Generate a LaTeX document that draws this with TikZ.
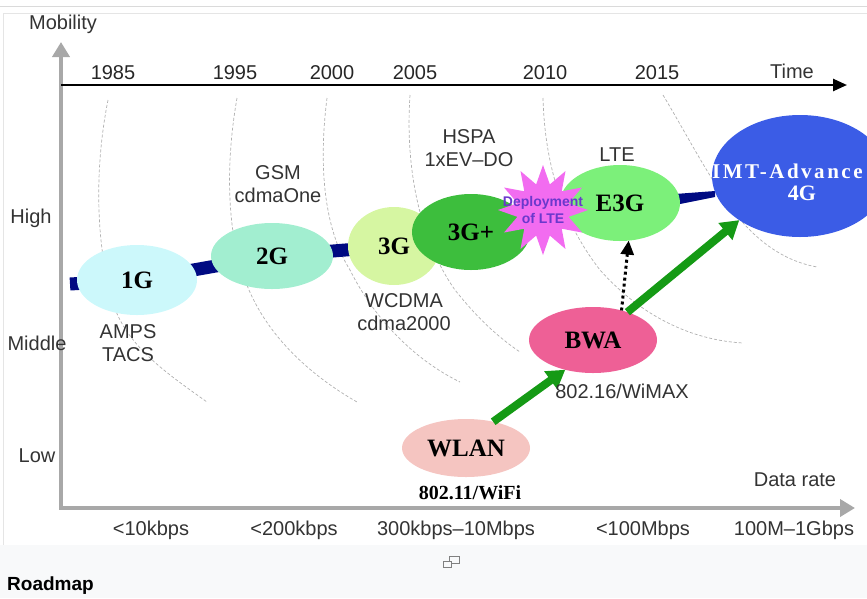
\documentclass[tikz,border=0pt]{standalone}
\usepackage{fontspec}
\setmainfont{Liberation Serif}
\setsansfont{Liberation Sans}
\usetikzlibrary{shapes.geometric,arrows.meta}

\definecolor{axisgray}{HTML}{A8A8A8}
\definecolor{arcgray}{HTML}{B0B0B0}
\definecolor{bandblue}{HTML}{000A82}
\definecolor{oneG}{HTML}{CCF8FB}
\definecolor{twoG}{HTML}{A2EED0}
\definecolor{threeG}{HTML}{D6F6A2}
\definecolor{threeGp}{HTML}{3DBE3D}
\definecolor{eThreeG}{HTML}{7CF07A}
\definecolor{imtblue}{HTML}{3B5CE6}
\definecolor{bwapink}{HTML}{EE6096}
\definecolor{wlanpink}{HTML}{F5C5C1}
\definecolor{starpink}{HTML}{F26CF0}
\definecolor{starText}{HTML}{6A38CC}
\definecolor{arrowgreen}{HTML}{159A15}
\definecolor{txtgray}{HTML}{333333}
\definecolor{capbg}{HTML}{F8F9FA}
\definecolor{framegray}{HTML}{DADADA}

\begin{document}
\begin{tikzpicture}[x=1pt,y=-1pt,
  gen/.style={ellipse, inner sep=0, outer sep=0, font=\bfseries\fontsize{25}{25}\selectfont},
  lbl/.style={font=\sffamily\fontsize{20}{23}\selectfont, text=txtgray, inner sep=0, align=center},
  era/.style={arcgray, dash pattern=on 3pt off 2pt, line width=0.7pt},
  leap/.style={arrowgreen, line width=8pt, -{Triangle[length=18pt,width=21pt]}}]
\useasboundingbox (0,0) rectangle (867,598);

% frame and caption strip
\draw[framegray, line width=1pt] (0,6) -- (867,6);
\draw[framegray!70, line width=1pt] (3,545) -- (3,13) -- (867,13);
\fill[capbg] (0,545) rectangle (867,598);

% centres of the generations
\coordinate (c1G) at (137,280);
\coordinate (c2G) at (272,256);
\coordinate (c3G) at (394,246);
\coordinate (c3Gp) at (471,232);
\coordinate (cE3G) at (620,203);
\coordinate (cIMT) at (800,176);
\coordinate (cBWA) at (593,340);
\coordinate (cWLAN) at (466,448);
\coordinate (cStar) at (543,210);

% dashed era arcs
\draw[era] (108,100) .. controls (96,160) and (94,235) .. (112,300) .. controls (125,345) and (165,372) .. (207,402);
\draw[era] (237,98) .. controls (226,160) and (226,230) .. (245,280) .. controls (265,335) and (310,375) .. (357,402);
\draw[era] (327,98) .. controls (318,170) and (325,230) .. (350,270) .. controls (375,320) and (415,360) .. (460,382);
\draw[era] (410,95) .. controls (405,170) and (420,240) .. (455,290) .. controls (475,315) and (495,335) .. (520,352);
\draw[era] (543,98) .. controls (545,170) and (565,225) .. (600,270) .. controls (640,315) and (690,340) .. (743,343);
\draw[era] (663,95) .. controls (690,140) and (715,190) .. (745,225) .. controls (770,252) and (795,263) .. (817,267);

% axes
\coordinate (origin) at (61,508);
\draw[axisgray, line width=4pt, {Triangle[length=15pt,width=17pt]}-{Triangle[length=15pt,width=17pt]}]
  (61,42) -- (origin) -- (855,508);
\draw[black, line width=2.5pt, -{Triangle[length=14pt,width=12pt]}] (61,85) -- (847,85);

% evolution band
\draw[bandblue, line width=13pt] (70,284) -- (c1G) -- (c2G) -- (c3G) -- (c3Gp) -- (cE3G);
\fill[bandblue] (675,194) -- (715,191) -- (715,197) -- (675,205) -- cycle;

% generations
\node[gen, fill=oneG, minimum width=120pt, minimum height=70pt] (n1G) at (c1G) {1G};
\node[gen, fill=twoG, minimum width=122pt, minimum height=66pt] (n2G) at (c2G) {2G};
\node[gen, fill=threeG, minimum width=92pt, minimum height=78pt] (n3G) at (c3G) {3G};
\node[gen, fill=threeGp, minimum width=118pt, minimum height=76pt] (n3Gp) at (c3Gp) {3G+};
\node[gen, fill=eThreeG, minimum width=120pt, minimum height=76pt] (nE3G) at (cE3G) {E3G};
\node[star, star points=12, star point ratio=1.7, minimum size=90pt, inner sep=0, fill=starpink] (nStar) at (cStar) {};
\node[font=\sffamily\bfseries\fontsize{14}{17}\selectfont, text=starText, align=center, inner sep=0] (nStarTxt) at (543,210) {Deployment\\of LTE};
\node[gen, fill=imtblue, minimum width=176pt, minimum height=122pt] (nIMT) at (cIMT) {};
\node[anchor=west, inner sep=0, text=white, font=\bfseries\fontsize{21}{21}\selectfont\addfontfeature{LetterSpace=12}] (imtTxt) at (712,171) {IMT-Advance};
\node[inner sep=0, text=white, font=\bfseries\fontsize{22}{22}\selectfont] (fourG) at (802,193) {4G};
\node[gen, fill=bwapink, minimum width=128pt, minimum height=66pt] (nBWA) at (cBWA) {BWA};
\node[gen, fill=wlanpink, minimum width=128pt, minimum height=58pt] (nWLAN) at (cWLAN) {WLAN};

% migration paths
\draw[leap] (nWLAN.44) -- (nBWA.227);
\draw[leap] (nBWA.39) -- (nIMT.216);
\draw[black, line width=3pt, dash pattern=on 3pt off 3pt, -{Triangle[length=14pt,width=13pt]}] (nBWA.46) -- (nE3G.283);

% years on the time axis
\foreach \yr/\xp in {1985/113,1995/235,2000/332,2005/415,2010/545,2015/657}
  \node[lbl, text=black!85] (y\yr) at (\xp,73) {\yr};
\node[lbl] (timeTxt) at (792,71) {Time};

% mobility levels
\node[lbl] (mobTxt) at (63,24) {Mobility};
\node[lbl] (highTxt) at (31,218) {High};
\node[lbl] (midTxt) at (37,343) {Middle};
\node[lbl] (lowTxt) at (37,456) {Low};

% data rates
\node[lbl] (rateTxt) at (795,480) {Data rate};
\foreach \r/\xp in {{<10kbps}/151,{<200kbps}/294,{300kbps\textendash10Mbps}/456,{<100Mbps}/643,{100M\textendash1Gbps}/794}
  \node[lbl] at (\xp,530) {\r};

% technologies
\node[lbl] (gsmTxt) at (278,184) {GSM\\cdmaOne};
\node[lbl] (ampsTxt) at (128,343) {AMPS\\TACS};
\node[lbl] (wcdmaTxt) at (404,312) {WCDMA\\cdma2000};
\node[lbl] (hspaTxt) at (469,148) {HSPA\\1xEV\textendash DO};
\node[lbl] (lteTxt) at (617,155) {LTE};
\node[lbl] (wimaxTxt) at (622,391) {802.16/WiMAX};
\node[inner sep=0, font=\bfseries\fontsize{20}{20}\selectfont] (wifiTxt) at (470,493) {802.11/WiFi};

% caption
\node[anchor=base west, inner sep=0, font=\sffamily\bfseries\fontsize{19}{19}\selectfont] (caption) at (7,590) {Roadmap};
\draw[gray, line width=0.8pt] (449,556) rectangle (459,563);
\draw[gray, line width=0.8pt, fill=capbg] (443,561) rectangle (451,567);
\end{tikzpicture}
\end{document}
